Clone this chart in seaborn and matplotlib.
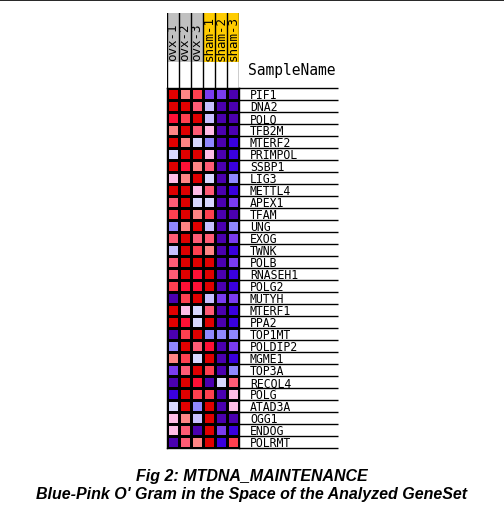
import numpy as np
import pandas as pd
import matplotlib
matplotlib.use("Agg")
import matplotlib.pyplot as plt
import seaborn as sns
from matplotlib.colors import ListedColormap
from matplotlib.lines import Line2D

# samples and their groups
samples = ["ovx-1", "ovx-2", "ovx-3", "sham-1", "sham-2", "sham-3"]
groups = ["ovx", "ovx", "ovx", "sham", "sham", "sham"]
group_colors = {"ovx": "#C0C0C0", "sham": "#FFCC00"}

genes = ["PIF1", "DNA2", "POLQ", "TFB2M", "MTERF2", "PRIMPOL", "SSBP1", "LIG3",
         "METTL4", "APEX1", "TFAM", "UNG", "EXOG", "TWNK", "POLB", "RNASEH1",
         "POLG2", "MUTYH", "MTERF1", "PPA2", "TOP1MT", "POLDIP2", "MGME1",
         "TOP3A", "RECQL4", "POLG", "ATAD3A", "OGG1", "ENDOG", "POLRMT"]

# blue-pink o'gram levels (0 = lowest / dark blue, 11 = highest / red)
palette = ["#4B00B0", "#3A00DD", "#7A3CF0", "#9088FF", "#C8C0FF", "#D8D8FF",
           "#FFBDE6", "#FF8585", "#FF5C75", "#FF4050", "#FF1035", "#E00000"]

levels = [
    [11, 7, 9, 2, 2, 0],   # PIF1
    [11, 11, 8, 4, 0, 0],  # DNA2
    [10, 9, 11, 4, 0, 0],  # POLQ
    [7, 11, 8, 6, 0, 0],   # TFB2M
    [11, 7, 5, 3, 0, 1],   # MTERF2
    [5, 11, 11, 6, 0, 1],  # PRIMPOL
    [11, 10, 7, 8, 0, 1],  # SSBP1
    [6, 7, 11, 5, 0, 3],   # LIG3
    [11, 11, 6, 8, 0, 1],  # METTL4
    [8, 11, 5, 5, 0, 2],   # APEX1
    [9, 11, 7, 9, 0, 0],   # TFAM
    [3, 7, 11, 4, 0, 3],   # UNG
    [8, 11, 8, 8, 0, 2],   # EXOG
    [4, 11, 9, 7, 0, 1],   # TWNK
    [8, 11, 11, 11, 0, 2], # POLB
    [8, 11, 10, 11, 0, 1], # RNASEH1
    [9, 10, 10, 11, 0, 1], # POLG2
    [0, 9, 11, 4, 2, 2],   # MUTYH
    [11, 6, 5, 8, 0, 1],   # MTERF1
    [11, 10, 5, 11, 0, 1], # PPA2
    [0, 9, 11, 3, 3, 3],   # TOP1MT
    [3, 11, 8, 10, 0, 2],  # POLDIP2
    [7, 9, 5, 11, 0, 1],   # MGME1
    [2, 8, 11, 9, 0, 3],   # TOP3A
    [0, 11, 10, 0, 5, 8],  # RECQL4
    [1, 11, 9, 9, 0, 6],   # POLG
    [5, 11, 3, 11, 0, 6],  # ATAD3A
    [6, 7, 4, 11, 0, 0],   # OGG1
    [6, 8, 0, 11, 2, 1],   # ENDOG
    [0, 8, 7, 11, 1, 9],   # POLRMT
]

df = pd.DataFrame(levels, index=genes, columns=samples)

W, H = 504, 511
fig = plt.figure(figsize=(W / 100, H / 100), dpi=100)
fig.patch.set_facecolor("white")

# main heatmap
x0, y_top, y_bot = 167, 88, 448
ncol = len(samples)
ax = fig.add_axes([x0 / W, 1 - y_bot / H, 12 * ncol / W, (y_bot - y_top) / H])
sns.heatmap(df, ax=ax, cmap=ListedColormap(palette), vmin=-0.5, vmax=11.5,
            cbar=False, linewidths=1.0, linecolor="black",
            xticklabels=False, yticklabels=False)
for s in ax.spines.values():
    s.set_visible(True)
    s.set_color("black")
    s.set_linewidth(1.0)
ax.set_xlabel("")
ax.set_ylabel("")

# row lines + gene labels on the right
x_end = (338 - x0) / 12
ax.hlines(np.arange(len(genes) + 1), ncol, x_end, color="black", lw=1.0, clip_on=False)
for i, g in enumerate(genes):
    ax.text((250 - x0) / 12, i + 0.93, g, ha="left", va="baseline",
            fontsize=8.3, family="DejaVu Sans Mono", clip_on=False)

# header with sample names
hdr_top = 13
hax = fig.add_axes([x0 / W, 1 - y_top / H, 12 * ncol / W, (y_top - hdr_top) / H])
hax.set_xlim(-0.5, ncol - 0.5)
hax.set_ylim(0, y_top - hdr_top)
col_h = 62 - hdr_top
hax.bar(range(ncol), col_h, bottom=(y_top - hdr_top) - col_h, width=1.0,
        color=[group_colors[g] for g in groups], edgecolor="none")
for i, s in enumerate(samples):
    hax.text(i, (y_top - hdr_top) - col_h + 1, s, rotation=90, ha="center",
             va="bottom", fontsize=9, family="DejaVu Sans Mono")
hax.axis("off")
for b in np.arange(-0.5, ncol, 1.0):
    hax.add_line(Line2D([b, b], [0, y_top - hdr_top], color="black", lw=1.0))

fig.text(248 / W, 1 - 70 / H, "SampleName", ha="left", va="center",
         fontsize=10.5, family="DejaVu Sans Mono")

# page rule at the top
fig.add_artist(Line2D([0, 1], [1 - 0.5 / H, 1 - 0.5 / H], color="black", lw=1.2))

# caption
fig.text(252 / W, 1 - 476 / H, "Fig 2: MTDNA_MAINTENANCE", ha="center", va="center",
         fontsize=11.5, fontweight="bold", fontstyle="italic", family="Liberation Sans")
fig.text(252 / W, 1 - 494 / H, "Blue-Pink O' Gram in the Space of the Analyzed GeneSet",
         ha="center", va="center", fontsize=11.5, fontweight="bold", fontstyle="italic",
         family="Liberation Sans")

fig.savefig("out.png", dpi=100, facecolor="white")
